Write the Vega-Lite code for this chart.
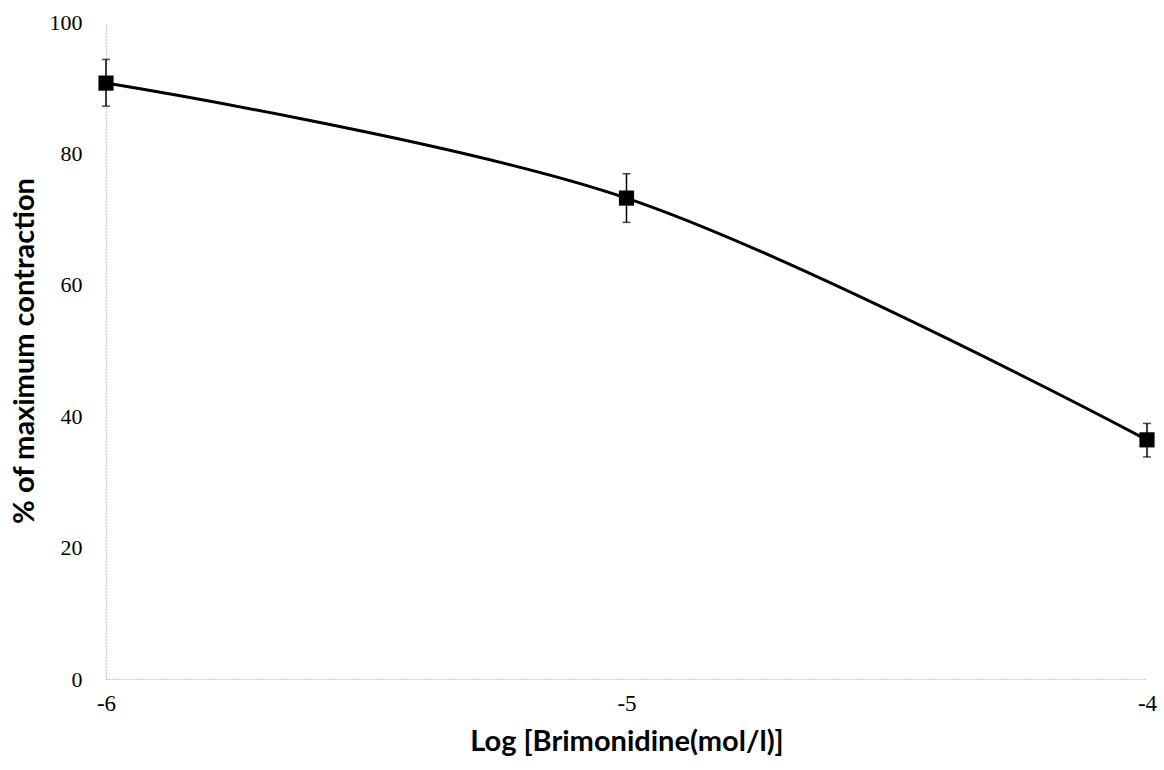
{
  "$schema": "https://vega.github.io/schema/vega-lite/v6.json",
  "width": 1041,
  "height": 657,
  "autosize": {"type": "none"},
  "padding": {"left": 106, "top": 22, "right": 17, "bottom": 91},
  "background": "white",
  "config": {"view": {"stroke": null}},
  "data": {"values": [
    {"x": -6, "y": 90.7, "lo": 87.2, "hi": 94.3},
    {"x": -5, "y": 73.2, "lo": 69.5, "hi": 76.9},
    {"x": -4, "y": 36.4, "lo": 33.8, "hi": 38.9}
  ]},
  "encoding": {
    "x": {"field": "x", "type": "quantitative", "scale": {"domain": [-6, -4], "nice": false},
      "axis": {"title": "Log [Brimonidine(mol/l)]", "values": [-6, -5, -4], "labelExpr": "toString(datum.value)", "grid": false,
        "labelOverlap": false, "labelFlush": false, "labelBound": false,
        "domainColor": "#999", "domainDash": [1, 2], "domainWidth": 1.2, "ticks": false,
        "labelFont": "Liberation Serif", "labelFontSize": 23, "labelColor": "#000", "labelPadding": 13,
        "titleFont": "Lato", "titleFontSize": 29, "titleFontWeight": "bold", "titleColor": "#000", "titlePadding": 12}},
    "y": {"field": "y", "type": "quantitative", "scale": {"domain": [0, 100], "nice": false},
      "axis": {"title": "% of maximum contraction", "values": [0, 20, 40, 60, 80, 100], "grid": false,
        "labelOverlap": false, "labelFlush": false,
        "domainColor": "#999", "domainDash": [1, 2], "domainWidth": 1.2, "ticks": false,
        "labelFont": "Liberation Serif", "labelFontSize": 22, "labelColor": "#000", "labelPadding": 24,
        "titleFont": "Lato", "titleFontSize": 29, "titleFontWeight": "bold", "titleColor": "#000", "titlePadding": 10}}
  },
  "layer": [
    {"mark": {"type": "line", "interpolate": "catmull-rom", "color": "#000", "strokeWidth": 3}},
    {"mark": {"type": "rule", "color": "#000", "strokeWidth": 1.5}, "encoding": {"y": {"field": "lo", "type": "quantitative"}, "y2": {"field": "hi"}}},
    {"mark": {"type": "tick", "color": "#000", "size": 8, "thickness": 1.5, "orient": "horizontal"}, "encoding": {"y": {"field": "lo", "type": "quantitative"}}},
    {"mark": {"type": "tick", "color": "#000", "size": 8, "thickness": 1.5, "orient": "horizontal"}, "encoding": {"y": {"field": "hi", "type": "quantitative"}}},
    {"mark": {"type": "square", "color": "#000", "opacity": 1, "filled": true, "size": 230}}
  ]
}
